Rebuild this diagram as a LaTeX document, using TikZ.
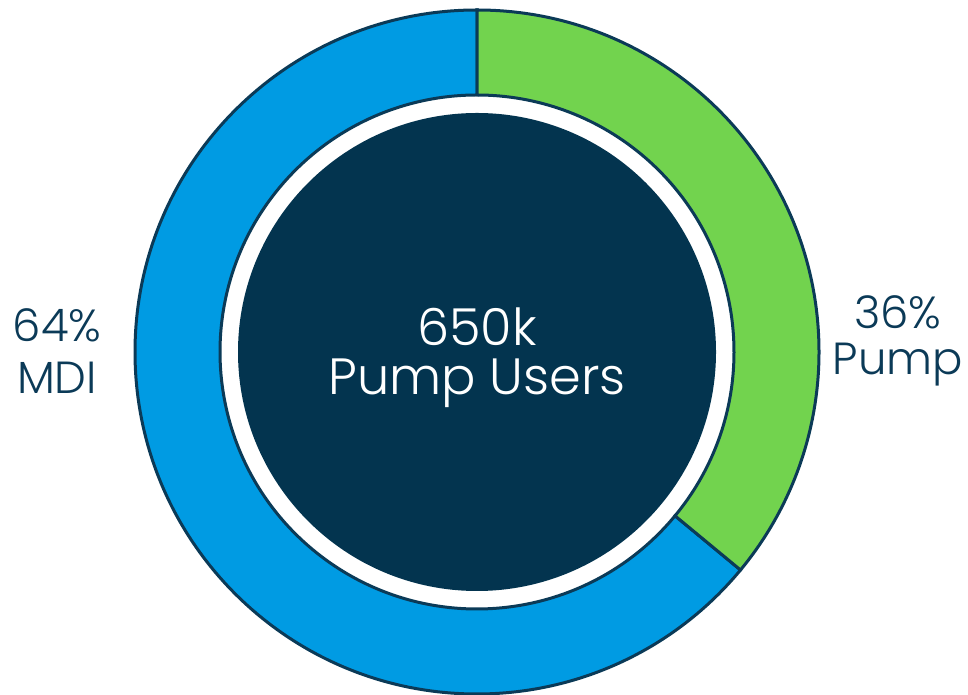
\documentclass[tikz,border=0pt]{standalone}
\usepackage{fontspec}
\setmainfont{Poppins}[UprightFont=* Light]
\usetikzlibrary{calc}
\definecolor{navy}{HTML}{0B3A57}
\definecolor{core}{HTML}{03344F}
\definecolor{bluec}{HTML}{009BE3}
\definecolor{greenc}{HTML}{72D34E}
\tikzset{
  seg/.style={draw=navy,line width=3pt,line join=miter},
  lbl/.style={text=navy,font=\fontsize{45}{54}\selectfont,align=center,inner sep=0pt},
  centerlbl/.style={text=white,font=\fontsize{51}{60}\selectfont,align=center,inner sep=0pt}
}
\begin{document}
\begin{tikzpicture}[x=1pt,y=1pt]
\useasboundingbox (0,0) rectangle (968,695);
\coordinate (C) at (477,343);
% blue segment (64%)
\draw[seg,fill=bluec] ($(C)+(90:342)$) arc[start angle=90,end angle=320.4,radius=342]
  -- ($(C)+(320.4:257)$) arc[start angle=320.4,end angle=90,radius=257] -- cycle;
% green segment (36%)
\draw[seg,fill=greenc] ($(C)+(90:342)$) arc[start angle=90,end angle=-39.6,radius=342]
  -- ($(C)+(-39.6:257)$) arc[start angle=-39.6,end angle=90,radius=257] -- cycle;
% core
\fill[core] (C) circle[radius=239];
\node[centerlbl] (n650) at (477,368) {650k};
\node[centerlbl] (users) at (477,312) {Pump Users};
\node[lbl] (p64) at (57,370) {64\%};
\node[lbl] (mdi) at (57,317) {MDI};
\node[lbl] (p36) at (898,383) {36\%};
\node[lbl] (pump) at (898,330) {Pump};
\end{tikzpicture}
\end{document}
